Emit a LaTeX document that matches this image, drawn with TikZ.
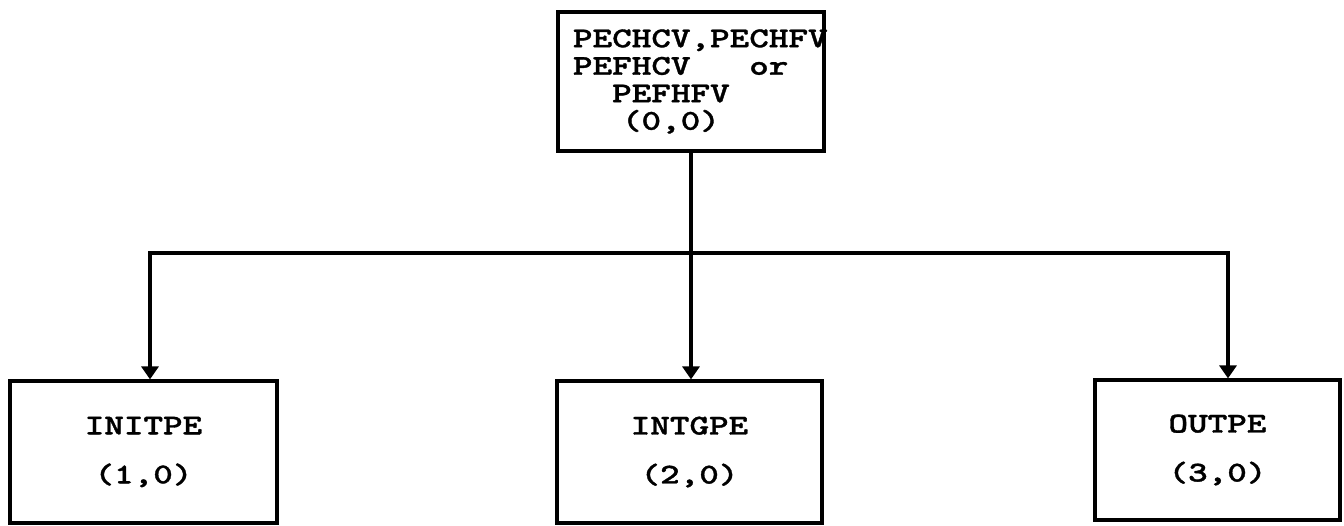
\documentclass[tikz,border=0pt]{standalone}
\usepackage{fontspec}
\newfontfamily\tw{lmmonolt10-bold}[Extension=.otf,FakeStretch=1.3,FakeBold=1.2]
\usetikzlibrary{arrows.meta}
\begin{document}
\begin{tikzpicture}[x=1pt,y=-1pt,
  box/.style={draw,line width=3.2pt,inner sep=0pt,
    font=\tw\fontsize{28.7}{27.5}\selectfont},
  topbox/.style={box,minimum width=266pt,minimum height=139pt,
    text width=236pt,align=left},
  lowbox/.style={box,minimum height=142pt,align=center},
  link/.style={line width=3.4pt},
  arr/.style={-{Triangle[width=17pt,length=13pt]}}]
\useasboundingbox (0,0) rectangle (1344,526);
\node[topbox] (top) at (691,81.5)
  {PECHCV,PECHFV\\
   PEFHCV\hphantom{XXX}or\\
   \hphantom{XX}PEFHFV\\
   \hphantom{XX}\hspace*{0.34em}(0,0)};
\node[lowbox,minimum width=267pt] (left) at (143.5,452) {INITPE\\[21.5pt](1,0)};
\node[lowbox,minimum width=265pt] (mid) at (689.5,452) {INTGPE\\[21.5pt](2,0)};
\node[lowbox,minimum width=245pt,minimum height=140pt] (right) at (1217.5,450) {OUTPE\\[21.5pt](3,0)};
\coordinate (busy) at (0,253);
\coordinate (jM) at (top.south |- busy);
\coordinate (jL) at (150,253);
\coordinate (jR) at (1228,253);
\draw[link,arr] (top.south) -- (top.south |- mid.north);
\draw[link,arr] (jM) -- (jL) -- (jL |- left.north);
\draw[link,arr] (jM) -- (jR) -- (jR |- right.north);
\end{tikzpicture}
\end{document}
